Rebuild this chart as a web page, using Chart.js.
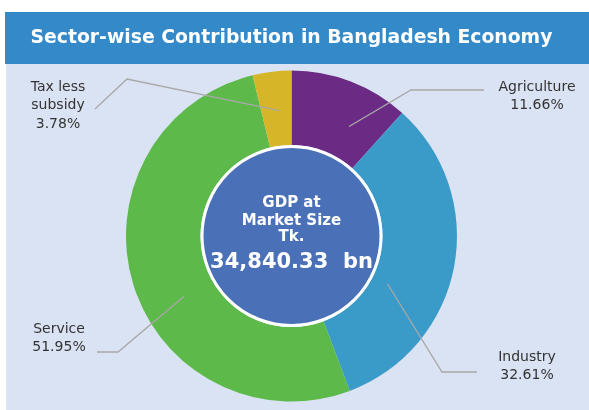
<!DOCTYPE html>
<html>
<head>
<meta charset="utf-8">
<script src="https://cdn.jsdelivr.net/npm/chart.js@4"></script>
<style>
html,body{margin:0;padding:0;background:#ffffff;}
canvas{display:block;}
</style>
</head>
<body>
<canvas id="c" width="589" height="410"></canvas>
<script>
// ---- data ----
const categories = ['Agriculture', 'Industry', 'Service', 'Tax less subsidy'];
const shares = [11.66, 32.61, 51.95, 3.78];
const titleText = 'Sector-wise Contribution in Bangladesh Economy';
const centerLines = ['GDP at', 'Market Size', 'Tk.'];
const centerValue = '34,840.33  bn';

// ---- styles / layout ----
const sliceColors = ['#6b2b84', '#3a9bc8', '#5cb94a', '#d6b628'];
const labelLayout = [
  { lines: ['Agriculture'], tx: 537, ty: 87, elbow: [411, 90], end: [484, 90], f: 0.66, g: 0.44 },
  { lines: ['Industry'], tx: 527, ty: 357, elbow: [442, 372], end: [477, 372], f: 0.635, g: 0.22 },
  { lines: ['Service'], tx: 59, ty: 329, elbow: [118, 352], end: [97, 352], f: 0.435, g: 0.43 },
  { lines: ['Tax less', 'subsidy'], tx: 58, ty: 87, elbow: [127, 79], end: [95, 109], f: 0.6, g: 0.47 }
];

const backgroundPlugin = {
  id: 'bg',
  beforeDraw(chart) {
    const ctx = chart.ctx;
    ctx.save();
    ctx.fillStyle = '#ffffff';
    ctx.fillRect(0, 0, chart.width, chart.height);
    ctx.fillStyle = '#3489c9';
    ctx.fillRect(5, 12, chart.width - 5, 52);
    ctx.fillStyle = '#dae3f3';
    ctx.fillRect(6, 64, chart.width - 6, chart.height - 64);
    ctx.restore();
  }
};

const decorPlugin = {
  id: 'decor',
  afterDatasetsDraw(chart) {
    const ctx = chart.ctx;
    const meta = chart.getDatasetMeta(0);
    const arcs = meta.data;
    const cx = arcs[0].x, cy = arcs[0].y;
    const inner = arcs[0].innerRadius;
    ctx.save();
    // centre disc
    ctx.beginPath();
    ctx.arc(cx, cy, inner - 1.5, 0, Math.PI * 2);
    ctx.fillStyle = '#4a71b8';
    ctx.fill();
    ctx.lineWidth = 3;
    ctx.strokeStyle = '#ffffff';
    ctx.stroke();
    // centre text
    ctx.fillStyle = '#ffffff';
    ctx.textAlign = 'center';
    ctx.textBaseline = 'middle';
    ctx.font = 'bold 15px "DejaVu Sans"';
    const ys = [-33, -15, 1.5];
    centerLines.forEach((t, i) => ctx.fillText(t, cx, cy + ys[i]));
    ctx.font = 'bold 21px "DejaVu Sans"';
    ctx.fillText(centerValue, cx, cy + 26.5);

    // leader lines + labels
    arcs.forEach((arc, i) => {
      const L = labelLayout[i];
      const p = arc.getProps(['startAngle', 'endAngle', 'innerRadius', 'outerRadius', 'x', 'y'], true);
      const a = p.startAngle + L.f * (p.endAngle - p.startAngle);
      const r = p.innerRadius + L.g * (p.outerRadius - p.innerRadius);
      const px = p.x + Math.cos(a) * r, py = p.y + Math.sin(a) * r;
      ctx.beginPath();
      ctx.moveTo(px, py);
      ctx.lineTo(L.elbow[0], L.elbow[1]);
      ctx.lineTo(L.end[0], L.end[1]);
      ctx.strokeStyle = '#a8a8a8';
      ctx.lineWidth = 1.3;
      ctx.stroke();
      ctx.fillStyle = '#333333';
      ctx.font = '14px "DejaVu Sans"';
      const lines = L.lines.concat([shares[i].toFixed(2) + '%']);
      lines.forEach((t, k) => ctx.fillText(t, L.tx, L.ty + k * 18.5));
    });
    ctx.restore();
  }
};

new Chart(document.getElementById('c'), {
  type: 'doughnut',
  data: {
    labels: categories,
    datasets: [{
      data: shares,
      backgroundColor: sliceColors,
      borderWidth: 0
    }]
  },
  options: {
    responsive: false,
    animation: false,
    devicePixelRatio: 1,
    cutout: '55%',
    rotation: 0,
    layout: { padding: { left: 0, right: 6, top: 0, bottom: 8.5 } },
    plugins: {
      legend: { display: false },
      tooltip: { enabled: false },
      title: {
        display: true,
        text: titleText,
        color: '#ffffff',
        font: { family: 'DejaVu Sans', size: 18.8, weight: 'bold', lineHeight: 1.2 },
        padding: { top: 27, bottom: 21 }
      }
    }
  },
  plugins: [backgroundPlugin, decorPlugin]
});
</script>
</body>
</html>
